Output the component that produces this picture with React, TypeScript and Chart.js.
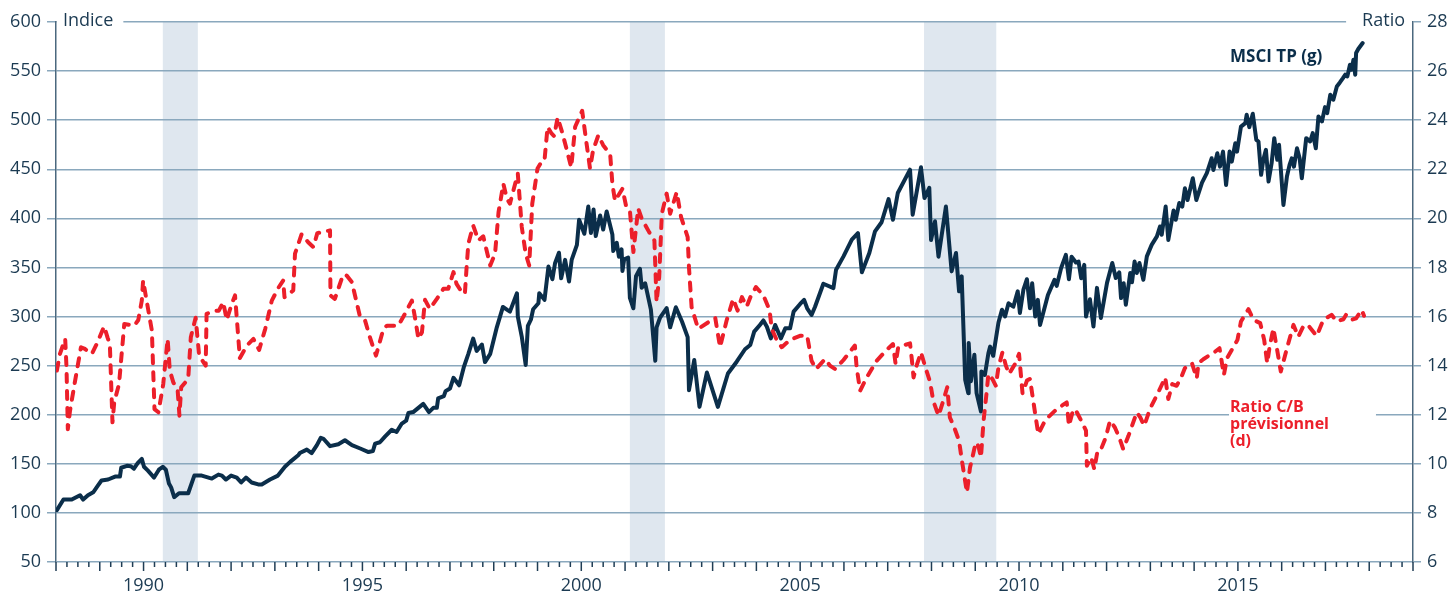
import React, { useEffect, useRef } from 'react';
import { Chart, registerables } from 'chart.js';
Chart.register(...registerables);

// MSCI TP index (left axis) : [decimal year, index]
const msciPoints: [number, number][] = [
  [1988.02, 102.7], [1988.17, 113.6], [1988.36, 113.6], [1988.55, 118], [1988.62, 113.6], [1988.73, 118], [1988.85, 121], [1988.96, 128],
  [1989.04, 133], [1989.19, 134], [1989.35, 137], [1989.46, 137], [1989.49, 146], [1989.62, 148], [1989.71, 147.5], [1989.78, 145], [1989.87, 151], [1989.96, 155],
  [1990.01, 147], [1990.10, 143], [1990.24, 136], [1990.35, 144], [1990.44, 147], [1990.51, 144], [1990.58, 130], [1990.63, 126], [1990.70, 116], [1990.81, 120],
  [1991.02, 120], [1991.16, 138], [1991.33, 138], [1991.56, 135], [1991.71, 139], [1991.79, 138], [1991.88, 134],
  [1992.00, 138], [1992.13, 136], [1992.23, 131], [1992.34, 136], [1992.47, 131], [1992.62, 129], [1992.70, 129], [1992.89, 134],
  [1993.07, 138], [1993.23, 147], [1993.35, 152], [1993.54, 159], [1993.57, 161], [1993.73, 164.5], [1993.84, 161], [1993.96, 169],
  [1994.05, 176.5], [1994.11, 175.5], [1994.26, 168], [1994.45, 170], [1994.60, 174], [1994.76, 169], [1994.95, 165.6],
  [1995.14, 162], [1995.24, 163], [1995.29, 170.6], [1995.40, 172], [1995.52, 178], [1995.67, 184.7], [1995.78, 182.4], [1995.90, 191],
  [1996.00, 194], [1996.05, 201.7], [1996.16, 202.7], [1996.39, 211], [1996.52, 202.7], [1996.62, 207], [1996.70, 207], [1996.73, 216.6], [1996.86, 219], [1996.90, 224],
  [1997.00, 226.7], [1997.08, 237.6], [1997.21, 230], [1997.32, 249], [1997.42, 262], [1997.53, 277.5], [1997.61, 265], [1997.73, 271.5], [1997.80, 253.6], [1997.92, 262],
  [1998.07, 289], [1998.21, 309.8], [1998.30, 307], [1998.37, 305], [1998.53, 323.7], [1998.55, 300], [1998.64, 279.6], [1998.73, 250.7], [1998.78, 290.4], [1998.85, 297], [1998.90, 307.4],
  [1999.02, 313.5], [1999.04, 323.7], [1999.16, 317], [1999.25, 351], [1999.34, 338], [1999.40, 354.3], [1999.49, 365], [1999.54, 339], [1999.63, 357.7], [1999.72, 335.7], [1999.78, 357.7], [1999.90, 373], [1999.95, 398.6],
  [2000.07, 384.3], [2000.16, 412], [2000.22, 385], [2000.28, 409], [2000.33, 382], [2000.43, 403], [2000.50, 388.6], [2000.58, 407], [2000.71, 383.6], [2000.73, 366.7], [2000.81, 375], [2000.86, 361], [2000.92, 368.4], [2000.94, 346.4], [2000.98, 358.3],
  [2001.07, 360], [2001.11, 319], [2001.19, 308.4], [2001.25, 341], [2001.34, 348.7], [2001.38, 329.3], [2001.46, 333.8], [2001.59, 307], [2001.69, 255], [2001.72, 289], [2001.80, 299], [2001.95, 308.6],
  [2002.03, 289], [2002.16, 309.5], [2002.30, 295], [2002.43, 279], [2002.46, 225], [2002.58, 255.7], [2002.70, 208], [2002.87, 243],
  [2003.12, 208], [2003.35, 242], [2003.55, 254], [2003.74, 266.7], [2003.86, 271], [2003.95, 284.6],
  [2004.08, 291.4], [2004.16, 296], [2004.24, 289.6], [2004.33, 277.8], [2004.43, 291.4], [2004.56, 277.8], [2004.66, 288], [2004.77, 288], [2004.85, 305],
  [2005.00, 312.8], [2005.09, 317], [2005.16, 308.4], [2005.26, 301.6], [2005.34, 310], [2005.53, 333.4], [2005.76, 329], [2005.82, 347.7], [2005.99, 361.3],
  [2006.18, 378.3], [2006.32, 385], [2006.41, 345], [2006.58, 364.7], [2006.71, 386.8], [2006.86, 396],
  [2007.02, 419.6], [2007.12, 398.6], [2007.23, 425.8], [2007.51, 449.6], [2007.57, 403.7], [2007.65, 424], [2007.76, 452], [2007.84, 420.7], [2007.95, 431], [2007.99, 378],
  [2008.08, 397], [2008.16, 361], [2008.33, 412], [2008.46, 346], [2008.56, 364.7], [2008.63, 325.7], [2008.69, 340.9], [2008.77, 235.6], [2008.84, 222], [2008.85, 273], [2008.90, 234], [2008.98, 261],
  [2009.03, 222], [2009.13, 203.2], [2009.14, 244], [2009.22, 240.5], [2009.30, 262.6], [2009.34, 269.4], [2009.41, 260], [2009.53, 294], [2009.61, 307], [2009.68, 300], [2009.76, 313.5], [2009.87, 310], [2009.97, 325.7],
  [2010.02, 303.6], [2010.10, 327.3], [2010.18, 338], [2010.25, 308.4], [2010.30, 334], [2010.37, 300], [2010.43, 317], [2010.48, 291.4], [2010.66, 322], [2010.81, 337.3], [2010.86, 331.2], [2010.96, 349.2],
  [2011.07, 362.8], [2011.14, 338], [2011.20, 361], [2011.30, 355], [2011.36, 356], [2011.42, 339], [2011.49, 352.6], [2011.53, 300], [2011.62, 317.6], [2011.70, 289.8], [2011.78, 329.2], [2011.87, 298.6],
  [2012.01, 334.3], [2012.13, 354.6], [2012.21, 339.3], [2012.29, 345], [2012.33, 318.8], [2012.39, 334], [2012.44, 312], [2012.54, 344.4], [2012.58, 335], [2012.64, 356], [2012.69, 344.4], [2012.75, 354.6], [2012.84, 337.5], [2012.92, 361.3],
  [2013.03, 373], [2013.15, 381.6], [2013.22, 391.7], [2013.26, 383.3], [2013.35, 412], [2013.41, 378], [2013.53, 408], [2013.58, 398.6], [2013.66, 415.6], [2013.73, 412], [2013.79, 430.6], [2013.85, 418.7], [2013.97, 440.8],
  [2014.05, 418.7], [2014.18, 436.4], [2014.29, 446], [2014.40, 461.2], [2014.44, 449.3], [2014.53, 466.3], [2014.59, 452.7], [2014.66, 468], [2014.73, 434], [2014.81, 468], [2014.86, 457.8], [2014.94, 476.5], [2014.98, 468],
  [2015.07, 493.5], [2015.17, 497], [2015.20, 505.5], [2015.26, 492.9], [2015.34, 506.5], [2015.42, 480], [2015.47, 478.3], [2015.53, 444.3], [2015.58, 459.6], [2015.64, 469.8], [2015.70, 437.5], [2015.77, 456.2], [2015.83, 481.7], [2015.90, 459.6], [2015.94, 474.9],
  [2016.04, 413.7], [2016.12, 442.6], [2016.18, 454.5], [2016.23, 461.2], [2016.28, 452.7], [2016.35, 471.4], [2016.41, 461.2], [2016.46, 440.8], [2016.56, 481.7], [2016.65, 478.3], [2016.71, 486.8], [2016.78, 471.4], [2016.84, 503.8], [2016.92, 498.7], [2016.99, 513.3],
  [2017.04, 507.2], [2017.11, 525.9], [2017.18, 520.8], [2017.26, 534.4], [2017.33, 538.4], [2017.40, 542.9], [2017.45, 546.3], [2017.50, 544.6], [2017.56, 556.5], [2017.60, 551.4], [2017.64, 561.6], [2017.68, 546.3], [2017.70, 568.4], [2017.75, 572.5], [2017.85, 578.6],
];

// Forward P/E ratio (right axis) : [decimal year, ratio]
const ratioPoints: [number, number][] = [
  [1988.02, 13.8], [1988.09, 14.48], [1988.21, 15.09], [1988.24, 13.93], [1988.27, 11.41], [1988.32, 12.16], [1988.43, 13.32], [1988.57, 14.75], [1988.66, 14.68], [1988.82, 14.48], [1988.93, 14.88],
  [1989.10, 15.6], [1989.18, 15.13], [1989.23, 14.88], [1989.29, 11.69], [1989.33, 12.5], [1989.44, 13.25], [1989.56, 15.7], [1989.79, 15.63], [1989.88, 15.86], [1989.96, 16.65], [1989.99, 17.47],
  [1990.07, 16.65], [1990.19, 15.43], [1990.25, 12.23], [1990.34, 12.1], [1990.45, 13.25], [1990.55, 15.09], [1990.60, 13.8], [1990.68, 13.32], [1990.78, 12.98], [1990.82, 11.96], [1990.86, 13.12],
  [1991.02, 13.46], [1991.08, 15.16], [1991.19, 15.95], [1991.27, 14.41], [1991.42, 14.0], [1991.44, 16.11], [1991.59, 16.22], [1991.72, 16.24], [1991.82, 16.59], [1991.90, 15.86],
  [1992.01, 16.49], [1992.09, 16.86], [1992.20, 14.31], [1992.36, 14.82], [1992.51, 15.09], [1992.64, 14.64], [1992.78, 15.5], [1992.93, 16.65],
  [1993.08, 17.17], [1993.19, 17.47], [1993.22, 16.79], [1993.42, 17.06], [1993.46, 18.56], [1993.61, 19.35], [1993.76, 19.03], [1993.88, 18.83], [1993.97, 19.4],
  [1994.26, 19.51], [1994.27, 16.86], [1994.37, 16.72], [1994.56, 17.71], [1994.64, 17.67], [1994.76, 17.4], [1994.95, 15.95],
  [1995.06, 15.84], [1995.17, 15.16], [1995.31, 14.41], [1995.48, 15.5], [1995.56, 15.63], [1995.82, 15.63], [1995.95, 16.04],
  [1996.13, 16.65], [1996.20, 15.97], [1996.28, 15.09], [1996.36, 15.36], [1996.43, 16.68], [1996.54, 16.31], [1996.70, 16.72], [1996.85, 17.13], [1996.96, 17.13],
  [1997.08, 17.81], [1997.15, 17.33], [1997.27, 16.99], [1997.34, 16.92], [1997.38, 18.01], [1997.42, 18.97], [1997.53, 19.71], [1997.65, 19.1], [1997.76, 19.27], [1997.92, 18.08],
  [1998.03, 18.56], [1998.11, 20.26], [1998.22, 21.41], [1998.30, 20.8], [1998.37, 20.6], [1998.55, 21.82], [1998.64, 19.65], [1998.73, 18.56], [1998.81, 18.08], [1998.88, 20.6],
  [1999.00, 22.03], [1999.10, 22.33], [1999.16, 22.37], [1999.23, 23.73], [1999.32, 23.46], [1999.38, 23.35], [1999.46, 24.11], [1999.57, 23.46], [1999.67, 22.78], [1999.77, 22.07], [1999.86, 23.73],
  [2000.02, 24.38], [2000.12, 23.05], [2000.20, 22.03], [2000.27, 22.78], [2000.39, 23.39], [2000.50, 22.98], [2000.66, 22.61], [2000.71, 21.41], [2000.77, 20.71], [2000.94, 21.21],
  [2001.02, 20.53], [2001.11, 20.33], [2001.19, 18.63], [2001.30, 20.4], [2001.38, 19.99], [2001.55, 19.44], [2001.67, 19.1], [2001.72, 16.59], [2001.78, 17.61], [2001.84, 20.19], [2001.95, 21.01],
  [2002.03, 20.19], [2002.18, 21.07], [2002.28, 20.05], [2002.43, 19.24], [2002.46, 18.01], [2002.52, 16.38], [2002.67, 15.5],
  [2003.06, 15.95], [2003.17, 14.75], [2003.32, 15.84], [2003.47, 16.72], [2003.57, 16.24], [2003.67, 16.79], [2003.78, 16.41], [2003.87, 16.82], [2003.99, 17.2],
  [2004.16, 16.86], [2004.30, 16.27], [2004.35, 15.5], [2004.47, 15.02], [2004.58, 14.75], [2004.77, 15.05],
  [2005.01, 15.22], [2005.16, 15.22], [2005.26, 14.2], [2005.36, 13.86], [2005.57, 14.27], [2005.68, 14.0], [2005.80, 13.86], [2005.99, 14.23],
  [2006.25, 14.82], [2006.29, 13.93], [2006.37, 12.98], [2006.52, 13.52], [2006.75, 14.2], [2006.96, 14.61],
  [2007.12, 14.88], [2007.18, 14.07], [2007.24, 14.75], [2007.51, 14.91], [2007.55, 14.27], [2007.59, 13.52], [2007.66, 14.0], [2007.76, 14.54], [2007.85, 14.0], [2007.97, 13.32],
  [2008.04, 12.57], [2008.16, 11.96], [2008.27, 12.57], [2008.36, 13.12], [2008.42, 11.89], [2008.52, 11.48], [2008.63, 10.94], [2008.69, 10.19], [2008.81, 8.83], [2008.88, 9.85], [2008.96, 10.46],
  [2009.01, 10.87], [2009.07, 10.73], [2009.13, 10.26], [2009.19, 11.76], [2009.26, 12.91], [2009.30, 13.66], [2009.39, 13.46], [2009.47, 13.18], [2009.53, 13.93], [2009.62, 14.54], [2009.70, 14.0], [2009.77, 13.66], [2009.91, 14.07],
  [2010.00, 14.48], [2010.08, 12.87], [2010.18, 13.39], [2010.25, 13.46], [2010.37, 12.03], [2010.44, 11.21], [2010.60, 11.78], [2010.82, 12.16],
  [2011.01, 12.41], [2011.09, 12.5], [2011.14, 11.55], [2011.24, 12.23], [2011.32, 12.1], [2011.42, 11.76], [2011.53, 11.35], [2011.55, 9.92], [2011.65, 10.26], [2011.72, 9.78], [2011.80, 10.6], [2011.89, 10.67], [2011.98, 11.07],
  [2012.08, 11.76], [2012.19, 11.48], [2012.29, 11.07], [2012.38, 10.6], [2012.50, 11.14], [2012.69, 12.1], [2012.77, 11.89], [2012.86, 11.55], [2012.99, 12.23],
  [2013.18, 12.91], [2013.34, 13.52], [2013.41, 12.64], [2013.50, 13.25], [2013.60, 13.18], [2013.70, 13.5], [2013.79, 13.9], [2013.95, 14.1],
  [2014.06, 13.48], [2014.10, 14.1], [2014.21, 14.26], [2014.48, 14.57], [2014.58, 14.71], [2014.68, 13.62], [2014.75, 14.3], [2014.86, 14.64], [2014.99, 15.05],
  [2015.07, 15.8], [2015.24, 16.3], [2015.36, 15.86], [2015.51, 15.73], [2015.60, 15.05], [2015.67, 14.1], [2015.72, 14.71], [2015.81, 15.52], [2015.89, 14.71], [2015.98, 13.76],
  [2016.12, 14.71], [2016.27, 15.66], [2016.38, 15.18], [2016.51, 15.66], [2016.63, 15.59], [2016.80, 15.21], [2016.95, 15.86],
  [2017.14, 16.07], [2017.26, 15.8], [2017.41, 15.89], [2017.47, 16.07], [2017.59, 15.86], [2017.70, 15.93], [2017.83, 16.27], [2017.88, 16.03],
];

// US recessions (shaded)
const recessionStart = [1990.44, 2001.11, 2007.83];
const recessionEnd = [1991.24, 2001.91, 2009.48];

const xMin = 1988;
const xMax = 2019;
const xLabelYears = [1990, 1995, 2000, 2005, 2010, 2015];
const leftTicks = [50, 100, 150, 200, 250, 300, 350, 400, 450, 500, 550, 600];
const rightTicks = [6, 8, 10, 12, 14, 16, 18, 20, 22, 24, 26, 28];

const leftTitle = 'Indice';
const rightTitle = 'Ratio';
const msciLabel = 'MSCI TP (g)';
const ratioLabel = ['Ratio C/B', 'prévisionnel', '(d)'];
const labelYear = 2014.82;

const NAVY = '#0b2e4a';
const RED = '#ec1f2a';
const TEXT = '#1b3a52';
const GRID = '#8aa8bd';
const AXIS = '#4b687e';
const FONT = '"Open Sans", "Noto Sans", sans-serif';

const decorPlugin = {
  id: 'decor',
  beforeDraw(chart: any) {
    const { ctx, chartArea, scales } = chart;
    const x = scales.x;
    ctx.save();
    ctx.fillStyle = '#dfe7ef';
    for (let i = 0; i < recessionStart.length; i++) {
      const x0 = x.getPixelForValue(recessionStart[i]);
      const x1 = x.getPixelForValue(recessionEnd[i]);
      ctx.fillRect(x0, chartArea.top, x1 - x0, chartArea.bottom - chartArea.top);
    }
    ctx.restore();
  },
  afterDraw(chart: any) {
    const { ctx, chartArea, scales } = chart;
    const x = scales.x;
    ctx.save();
    // quarterly ticks, yearly longer
    ctx.strokeStyle = '#1f3d55';
    ctx.lineWidth = 1.5;
    const n = Math.round((xMax - xMin) * 4);
    for (let q = 0; q <= n; q++) {
      const px = x.getPixelForValue(xMin + q / 4);
      const len = q % 4 === 0 ? 9 : 5;
      ctx.beginPath();
      ctx.moveTo(px, chartArea.bottom);
      ctx.lineTo(px, chartArea.bottom + len);
      ctx.stroke();
    }
    // axis titles with white backing over top gridline
    ctx.font = `18px ${FONT}`;
    ctx.textBaseline = 'alphabetic';
    const lw = ctx.measureText(leftTitle).width;
    ctx.fillStyle = '#ffffff';
    ctx.fillRect(chartArea.left + 1, chartArea.top - 3, lw + 16, 6);
    const rw = ctx.measureText(rightTitle).width;
    ctx.fillRect(chartArea.right - rw - 24, chartArea.top - 3, rw + 23, 6);
    ctx.fillStyle = TEXT;
    ctx.textAlign = 'left';
    ctx.fillText(leftTitle, chartArea.left + 7, chartArea.top + 4);
    ctx.textAlign = 'right';
    ctx.fillText(rightTitle, chartArea.right - 8, chartArea.top + 4);

    // series labels
    const lx = x.getPixelForValue(labelYear);
    ctx.textAlign = 'left';
    ctx.font = `bold 17px ${FONT}`;
    ctx.fillStyle = NAVY;
    ctx.fillText(msciLabel, lx, 62);

    ctx.font = `bold 16px ${FONT}`;
    const y200 = scales.y.getPixelForValue(200);
    let maxW = 0;
    ratioLabel.forEach((t) => { maxW = Math.max(maxW, ctx.measureText(t).width); });
    ctx.fillStyle = '#ffffff';
    ctx.fillRect(lx - 1, y200 - 2, maxW + 48, 4);
    ctx.fillStyle = RED;
    ratioLabel.forEach((t, i) => ctx.fillText(t, lx, y200 - 3 + i * 17));
    ctx.restore();
  },
};

export default function App() {
  const ref = useRef<HTMLCanvasElement | null>(null);
  useEffect(() => {
    if (!ref.current) return;
    const tickFont = { family: FONT, size: 18 };
    const chart = new Chart(ref.current, {
      type: 'line',
      data: {
        datasets: [
          {
            label: 'Ratio C/B prévisionnel (d)',
            data: ratioPoints.map(([x, y]) => ({ x, y })),
            yAxisID: 'y1',
            borderColor: RED,
            borderWidth: 4,
            borderDash: [8, 9],
            borderCapStyle: 'round',
            borderJoinStyle: 'round',
            pointRadius: 0,
            tension: 0,
            fill: false,
          },
          {
            label: 'MSCI TP (g)',
            data: msciPoints.map(([x, y]) => ({ x, y })),
            yAxisID: 'y',
            borderColor: NAVY,
            borderWidth: 4,
            borderCapStyle: 'round',
            borderJoinStyle: 'round',
            pointRadius: 0,
            tension: 0,
            fill: false,
          },
        ],
      },
      options: {
        responsive: false,
        animation: false,
        devicePixelRatio: 1,
        layout: { padding: { top: 22, left: 0, right: 0, bottom: 0 } },
        plugins: { legend: { display: false }, tooltip: { enabled: false } },
        scales: {
          x: {
            type: 'linear',
            min: xMin,
            max: xMax,
            afterBuildTicks: (s: any) => { s.ticks = xLabelYears.map((v) => ({ value: v })); },
            ticks: { callback: (v: any) => String(v), font: tickFont, color: TEXT, padding: 13, maxRotation: 0, autoSkip: false },
            grid: { display: false, drawTicks: false },
            border: { display: false },
            afterFit: (s: any) => { s.height = 32; },
          },
          y: {
            type: 'linear',
            position: 'left',
            min: 50,
            max: 600,
            afterBuildTicks: (s: any) => { s.ticks = leftTicks.map((v) => ({ value: v })); },
            ticks: { callback: (v: any) => String(v), font: tickFont, color: TEXT, padding: 6 },
            grid: { color: GRID, lineWidth: 1.5, tickLength: 9, drawTicks: true },
            border: { display: true, color: AXIS, width: 1.5 },
            afterFit: (s: any) => { s.width = 56; },
          },
          y1: {
            type: 'linear',
            position: 'right',
            min: 6,
            max: 28,
            afterBuildTicks: (s: any) => { s.ticks = rightTicks.map((v) => ({ value: v })); },
            ticks: { callback: (v: any) => String(v), font: tickFont, color: TEXT, padding: 6 },
            grid: { color: GRID, lineWidth: 1.5, tickLength: 8, drawTicks: true, drawOnChartArea: false },
            border: { display: true, color: AXIS, width: 1.5 },
            afterFit: (s: any) => { s.width = 38; },
          },
        },
      },
      plugins: [decorPlugin],
    } as any);
    return () => chart.destroy();
  }, []);
  return (
    <div style={{ position: 'fixed', left: 0, top: 0, width: 1451, height: 594, background: '#fff' }}>
      <canvas ref={ref} width={1451} height={594} />
    </div>
  );
}
